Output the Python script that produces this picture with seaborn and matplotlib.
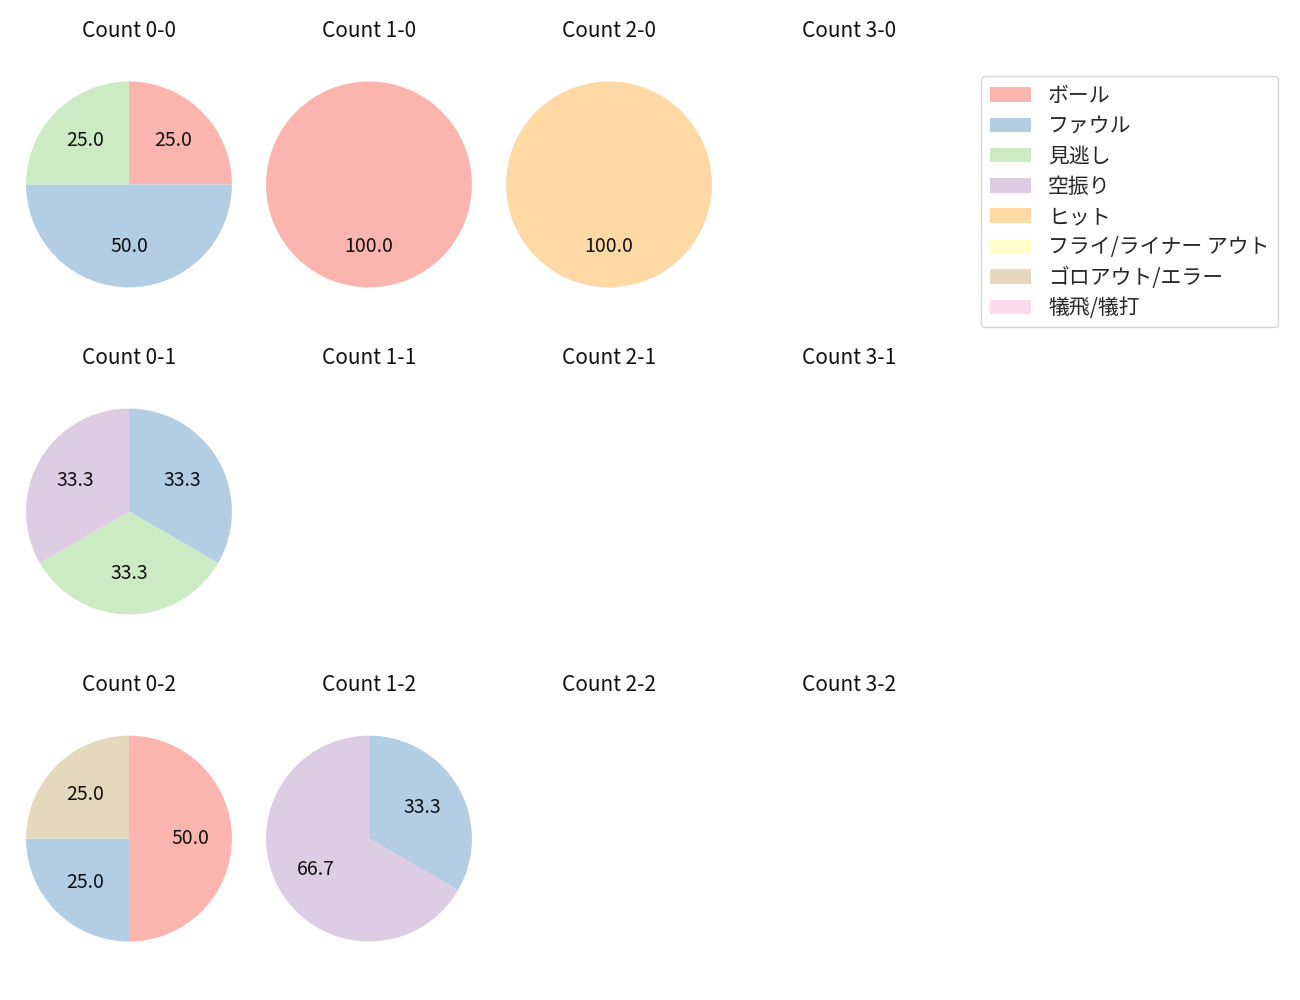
import matplotlib
matplotlib.use("Agg")
import matplotlib.pyplot as plt
from matplotlib.patches import Patch
import seaborn as sns

# Pitch result categories (legend order)
CATEGORIES = ["ボール", "ファウル", "見逃し", "空振り", "ヒット",
              "フライ/ライナー アウト", "ゴロアウト/エラー", "犠飛/犠打"]

BALLS = [0, 1, 2, 3]
STRIKES = [0, 1, 2]

# counts per category, keyed by "balls-strikes"
count_0_0 = [1, 2, 1, 0, 0, 0, 0, 0]
count_1_0 = [1, 0, 0, 0, 0, 0, 0, 0]
count_2_0 = [0, 0, 0, 0, 1, 0, 0, 0]
count_0_1 = [0, 1, 1, 1, 0, 0, 0, 0]
count_0_2 = [2, 1, 0, 0, 0, 0, 1, 0]
count_1_2 = [0, 1, 0, 2, 0, 0, 0, 0]

DATA = {
    "0-0": count_0_0,
    "1-0": count_1_0,
    "2-0": count_2_0,
    "0-1": count_0_1,
    "0-2": count_0_2,
    "1-2": count_1_2,
}

sns.set_theme(style="white")
plt.rcParams["font.family"] = ["Noto Sans CJK JP", "DejaVu Sans"]
plt.rcParams["font.size"] = 15

colors = sns.color_palette("Pastel1", len(CATEGORIES))

fig, axes = plt.subplots(len(STRIKES), len(BALLS), figsize=(13, 10), dpi=100)
fig.subplots_adjust(left=24 / 1300, right=954 / 1300, bottom=0.022, top=0.955,
                    wspace=0.143, hspace=0.173)

for r, s in enumerate(STRIKES):
    for c, b in enumerate(BALLS):
        ax = axes[r, c]
        key = f"{b}-{s}"
        ax.set_title(f"Count {key}", fontsize=15, color="#111111")
        ax.axis("off")
        values = DATA.get(key)
        if values is None or sum(values) == 0:
            continue
        vals = [v for v in values if v > 0]
        cols = [colors[i] for i, v in enumerate(values) if v > 0]
        ax.pie(vals, colors=cols, autopct="%.1f", startangle=90,
               counterclock=False, wedgeprops={"linewidth": 0},
               textprops={"fontsize": 14, "color": "#111111"})
        ax.set_xlim(-1.02, 1.02)
        ax.set_aspect("equal", adjustable="datalim")

handles = [Patch(facecolor=colors[i], linewidth=0, label=cat)
           for i, cat in enumerate(CATEGORIES)]
fig.legend(handles=handles, loc="upper left",
           bbox_to_anchor=(971 / 1300, 1 - 66 / 1000), fontsize=15,
           labelspacing=0.4, frameon=True, edgecolor="#cccccc")

fig.savefig("out.png")
